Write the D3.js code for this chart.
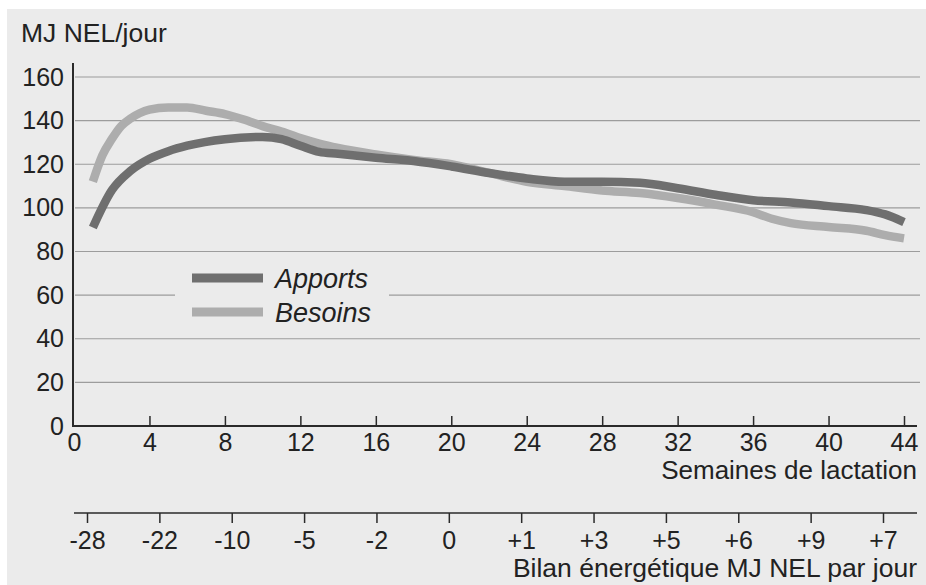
<!DOCTYPE html>
<html>
<head>
<meta charset="utf-8">
<title>MJ NEL/jour</title>
<script src="https://d3js.org/d3.v7.min.js"></script>
<style>
  body { margin: 0; background: #fff; }
  svg text { font-family: "Liberation Sans", Arial, Helvetica, sans-serif; fill: #222; }
</style>
</head>
<body>
<svg id="chart"></svg>
<script>
const width = 926;
const height = 585;

// data
const weeksApports = [1, 2, 3, 4, 5, 6, 8, 10, 11, 12, 13, 14, 16, 18, 20, 22, 24, 26, 28, 30, 32, 34, 36, 38, 40, 42, 43, 44];
const apports      = [91, 108, 117, 122.5, 126, 128.5, 131.5, 132.5, 131.5, 128.5, 125.7, 124.8, 123, 121.5, 119, 116, 113.5, 112, 112, 111.5, 109, 106, 103.5, 102.5, 100.8, 99, 97, 93.5];
const weeksBesoins = [1, 1.5, 2, 2.5, 3, 3.5, 4, 5, 6, 7, 8, 9, 10, 11, 12, 13, 14, 16, 18, 20, 22, 24, 26, 28, 30, 32, 34, 36, 37, 38, 40, 42, 43, 44];
const besoins      = [112, 124, 131.5, 137.5, 141, 143.5, 145, 146, 146, 144.5, 143, 140.5, 137.5, 135, 132, 129.5, 127.5, 124.5, 122, 120, 116, 112, 110, 108, 106.8, 104.5, 101.5, 98, 95, 93, 91.2, 89.5, 87.5, 86];
const weekTicks = [0, 4, 8, 12, 16, 20, 24, 28, 32, 36, 40, 44];
const yTicks = [0, 20, 40, 60, 80, 100, 120, 140, 160];
const bilanLabels = ['-28', '-22', '-10', '-5', '-2', '0', '+1', '+3', '+5', '+6', '+9', '+7'];

const svg = d3.select('#chart')
  .attr('width', width)
  .attr('height', height);

// scanned page background
svg.append('rect')
  .attr('x', 7).attr('y', 9)
  .attr('width', width - 7).attr('height', height - 9)
  .attr('fill', '#ebebeb');

const x = d3.scaleLinear().domain([0, 44]).range([74, 904]);
const y = d3.scaleLinear().domain([0, 160]).range([426, 77]);
const xBilan = d3.scalePoint().domain(bilanLabels).range([87, 883]);

// gridlines
svg.append('g')
  .selectAll('line')
  .data(yTicks.filter(d => d > 0))
  .join('line')
  .attr('x1', 75).attr('x2', 920)
  .attr('y1', d => y(d)).attr('y2', d => y(d))
  .attr('stroke', '#9c9c9c')
  .attr('stroke-width', 1.2);

// y labels
svg.append('g')
  .selectAll('text')
  .data(yTicks)
  .join('text')
  .attr('x', 64)
  .attr('y', d => y(d))
  .attr('dy', '0.34em')
  .attr('text-anchor', 'end')
  .attr('font-size', 25)
  .text(d => d);

svg.append('text')
  .attr('x', 21).attr('y', 42)
  .attr('font-size', 26.5)
  .text('MJ NEL/jour');

// lines
const line = d3.line().curve(d3.curveMonotoneX);

svg.append('path')
  .attr('d', line(weeksBesoins.map((w, i) => [x(w), y(besoins[i])])))
  .attr('fill', 'none')
  .attr('stroke', '#adadad')
  .attr('stroke-width', 8.5);

svg.append('path')
  .attr('d', line(weeksApports.map((w, i) => [x(w), y(apports[i])])))
  .attr('fill', 'none')
  .attr('stroke', '#6f6f6f')
  .attr('stroke-width', 8.5);

// legend (hides the 60 gridline behind it)
svg.append('rect')
  .attr('x', 175).attr('y', 262)
  .attr('width', 214).attr('height', 66)
  .attr('fill', '#ebebeb');

const legend = [['Apports', '#6f6f6f'], ['Besoins', '#adadad']];
const lg = svg.append('g')
  .selectAll('g')
  .data(legend)
  .join('g')
  .attr('transform', (d, i) => `translate(192, ${278 + i * 34})`);
lg.append('line')
  .attr('x1', 0).attr('x2', 71)
  .attr('stroke', d => d[1])
  .attr('stroke-width', 9);
lg.append('text')
  .attr('x', 83).attr('y', 10)
  .attr('font-size', 27)
  .attr('font-style', 'italic')
  .text(d => d[0]);

// y axis line
svg.append('line')
  .attr('x1', 73).attr('x2', 73)
  .attr('y1', 63).attr('y2', 427)
  .attr('stroke', '#2a2a2a').attr('stroke-width', 2);

// weeks axis
const xAxis = svg.append('g')
  .attr('transform', 'translate(0,426)')
  .call(d3.axisBottom(x).tickValues(weekTicks).tickSizeInner(-10).tickSizeOuter(0).tickPadding(0));
xAxis.select('.domain').remove();
xAxis.selectAll('.tick line').attr('stroke', '#2a2a2a').attr('stroke-width', 1.5)
  .filter(d => d === 0).remove();
xAxis.selectAll('.tick text')
  .attr('y', 25).attr('dy', null)
  .attr('font-size', 25).attr('font-family', null).attr('fill', '#222');
xAxis.append('line')
  .attr('x1', 73).attr('x2', 917)
  .attr('stroke', '#2a2a2a').attr('stroke-width', 2);

svg.append('text')
  .attr('x', 917).attr('y', 479)
  .attr('text-anchor', 'end')
  .attr('font-size', 26)
  .text('Semaines de lactation');

// energy balance axis
const bAxis = svg.append('g')
  .attr('transform', 'translate(0,513)')
  .call(d3.axisBottom(xBilan).tickSizeInner(10).tickSizeOuter(0).tickPadding(0));
bAxis.select('.domain').remove();
bAxis.selectAll('.tick line').attr('stroke', '#2a2a2a').attr('stroke-width', 1.5);
bAxis.selectAll('.tick text')
  .attr('y', 36).attr('dy', null)
  .attr('font-size', 25).attr('font-family', null).attr('fill', '#222');
bAxis.append('line')
  .attr('x1', 74).attr('x2', 917)
  .attr('stroke', '#2a2a2a').attr('stroke-width', 1.5);

svg.append('text')
  .attr('x', 917).attr('y', 577)
  .attr('text-anchor', 'end')
  .attr('font-size', 26.5)
  .text('Bilan énergétique MJ NEL par jour');
</script>
</body>
</html>
